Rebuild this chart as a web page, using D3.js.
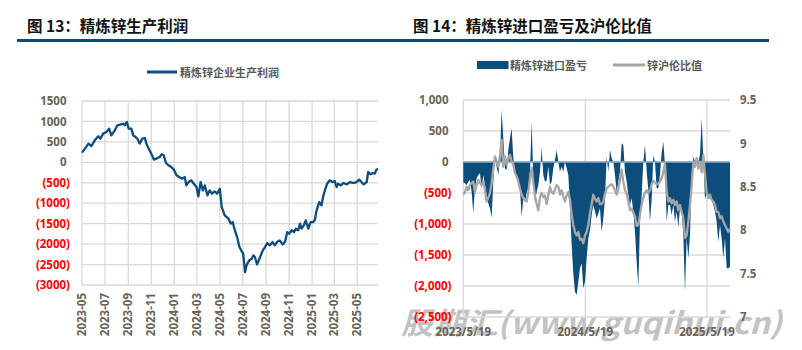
<!DOCTYPE html>
<html><head><meta charset="utf-8">
<script src="https://cdn.jsdelivr.net/npm/d3@7"></script>
<style>body{margin:0;background:#fff} svg{display:block}</style>
</head><body><svg id="c" width="802" height="350"></svg>
<script>
// ---------- DATA ----------
const titleLeft = "图 13：精炼锌生产利润";
const titleRight = "图 14：精炼锌进口盈亏及沪伦比值";
const legendLeft = "精炼锌企业生产利润";
const legendRightArea = "精炼锌进口盈亏";
const legendRightLine = "锌沪伦比值";
const watermark = "股期汇(www.guqihui.cn)";

const leftYTicks = [1500, 1000, 500, 0, -500, -1000, -1500, -2000, -2500, -3000];
const leftDomainDates = ["2023-05-01", "2025-06-25"];
const leftDates = ["2023-05-01","2023-05-09","2023-05-18","2023-05-26","2023-06-04","2023-06-13","2023-06-19","2023-06-26","2023-07-05","2023-07-12","2023-07-18","2023-07-27","2023-08-03","2023-08-12","2023-08-18","2023-08-23","2023-08-28","2023-09-02","2023-09-09","2023-09-14","2023-09-20","2023-09-25","2023-10-01","2023-10-08","2023-10-15","2023-10-19","2023-10-25","2023-11-01","2023-11-08","2023-11-14","2023-11-23","2023-11-29","2023-12-04","2023-12-10","2023-12-17","2023-12-24","2023-12-31","2024-01-07","2024-01-14","2024-01-22","2024-01-29","2024-02-02","2024-02-08","2024-02-15","2024-02-22","2024-02-29","2024-03-05","2024-03-11","2024-03-17","2024-03-22","2024-03-29","2024-04-04","2024-04-10","2024-04-17","2024-04-24","2024-05-01","2024-05-06","2024-05-14","2024-05-24","2024-05-30","2024-06-04","2024-06-10","2024-06-16","2024-06-22","2024-06-28","2024-07-02","2024-07-07","2024-07-11","2024-07-18","2024-07-25","2024-07-29","2024-08-02","2024-08-08","2024-08-16","2024-08-23","2024-08-29","2024-09-04","2024-09-11","2024-09-18","2024-09-24","2024-09-30","2024-10-07","2024-10-15","2024-10-21","2024-10-27","2024-11-01","2024-11-08","2024-11-14","2024-11-19","2024-11-25","2024-11-30","2024-12-04","2024-12-10","2024-12-15","2024-12-22","2024-12-28","2025-01-04","2025-01-08","2025-01-13","2025-01-20","2025-01-26","2025-01-30","2025-02-04","2025-02-10","2025-02-17","2025-02-24","2025-03-02","2025-03-07","2025-03-11","2025-03-18","2025-03-25","2025-04-03","2025-04-12","2025-04-20","2025-04-29","2025-05-06","2025-05-12","2025-05-18","2025-05-26","2025-05-30","2025-06-05","2025-06-12","2025-06-16","2025-06-21","2025-06-25"];
const leftProfit = [237,335,457,400,538,636,580,702,741,824,660,783,905,930,946,905,986,824,824,660,620,580,457,580,595,457,335,212,66,90,130,196,171,-16,-73,-115,-179,
-318,-359,-399,-359,-563,-482,-440,-522,-604,-832,-482,-685,-563,-807,-685,-766,-709,-766,-644,-1093,-1300,-1378,-1500,-1460,-1663,-1827,-2072,-2170,-2233,-2683,-2519,-2397,-2356,-2275,-2316,-2495,-2316,-2152,-2072,-1974,-2030,-1950,-2030,-1950,-1908,-2006,-1950,-1705,-1745,-1663,-1705,-1622,-1663,-1500,-1622,-1541,-1419,-1622,-1460,
-1460,-1419,-1174,-971,-1052,-849,-685,-522,-440,-482,-457,-604,-522,-563,-506,-538,-482,-506,-482,-423,-482,-538,-482,-237,-293,-262,-277,-179,-155];

const rightYTicks = [1000, 500, 0, -500, -1000, -1500, -2000, -2500];
const rightY2Ticks = [9.5, 9, 8.5, 8, 7.5, 7];
const rightXTicks = ["2023-05-19", "2024-05-19", "2025-05-19"];
const rightStartDate = "2023-05-19";   // observations every 5 days
const rightStepDays = 5;
const importProfit = [-330,-344,-371,-317,-290,-478,-828,-410,-263,-210,
-183,-425,-210,-371,-532,-667,-747,-898,-317,90,
-75,-210,100,839,382,-102,-129,194,382,543,
70,-150,-210,-263,-425,-882,-586,-650,-500,-425,
-156,650,-263,-640,-478,-371,-156,220,-210,-317,
-300,-75,-371,-317,-102,32,194,5,-156,-75,
-156,5,-102,-210,-693,-1339,-1800,-2091,-2145,-1930,
-1715,-1634,-2038,-1930,-1554,-1231,-1100,-855,-693,-800,
-909,-830,-747,-1124,-909,-600,86,-156,194,59,
5,-210,-478,-317,-156,301,274,-156,-317,-532,
-693,-586,-801,-1124,-1607,-2011,-962,-532,5,274,
-150,-450,-962,-600,113,0,-425,-425,-200,150,
328,-48,-962,-693,-693,-855,-693,-962,-801,-1043,
-747,-801,-1177,-2091,-1231,-1554,-1177,-210,86,5,
86,5,113,704,59,-600,-500,-550,-600,-600,
-693,-801,-962,-1285,-1016,-1231,-1554,-1231,-1715,-1715,
-1688];
const shLmeRatio = [8.41,8.44,8.50,8.46,8.52,8.54,8.56,8.44,8.52,8.58,
8.54,8.52,8.56,8.46,8.33,8.37,8.43,8.54,8.71,8.85,
8.79,8.73,8.85,9.04,8.73,8.85,8.75,8.83,8.87,8.79,
8.75,8.66,8.62,8.56,8.48,8.41,8.37,8.36,8.33,8.44,
8.60,8.72,8.55,8.40,8.30,8.23,8.38,8.43,8.38,8.40,
8.30,8.40,8.50,8.44,8.42,8.47,8.52,8.50,8.41,8.46,
8.39,8.33,8.40,8.44,8.35,8.18,8.06,7.98,7.94,7.98,
7.89,7.90,7.85,7.94,7.98,8.06,8.20,8.30,8.41,8.36,
8.33,8.37,8.30,8.30,8.33,8.42,8.48,8.50,8.52,8.53,
8.50,8.46,8.41,8.48,8.58,8.70,8.56,8.46,8.42,8.33,
8.23,8.25,8.20,8.16,8.05,8.06,8.18,8.30,8.38,8.43,
8.46,8.43,8.46,8.53,8.57,8.55,8.53,8.54,8.56,8.60,
8.67,8.77,8.44,8.33,8.37,8.31,8.35,8.29,8.33,8.23,
8.29,8.21,8.14,7.91,7.94,8.10,8.29,8.52,8.79,8.73,
8.83,8.71,8.79,8.67,8.87,8.64,8.44,8.37,8.41,8.35,
8.33,8.29,8.21,8.21,8.14,8.16,8.10,8.06,8.02,7.98,
8.02];

// ---------- DRAW ----------
const parse = d3.timeParse("%Y-%m-%d");
const svg = d3.select("#c");
const NUM = "'Open Sans','Noto Sans',sans-serif";
const CJK = "'Noto Sans CJK SC','Noto Sans',sans-serif";
const posCol = "#6a6158", negCol = "#ff0000", navy = "#0c4d7c", gridCol = "#d9d9d9", greyLine = "#a6a6a6";

// watermark (behind)
svg.append("text").attr("x", 401).attr("y", 334)
  .attr("font-family", CJK).attr("font-size", 30).attr("font-weight", 700).attr("font-style", "italic")
  .attr("fill", "#b4b4b4").attr("opacity", 0.8)
  .attr("textLength", 381).attr("lengthAdjust", "spacingAndGlyphs")
  .text(watermark);

// titles
[[27, titleLeft], [413, titleRight]].forEach(([x, t]) => {
  svg.append("text").attr("x", x).attr("y", 32).attr("font-family", CJK)
    .attr("font-size", 15.5).attr("font-weight", 700).attr("fill", "#111").text(t);
});
svg.append("rect").attr("x", 17).attr("y", 39).attr("width", 752).attr("height", 3).attr("fill", "#0d4a7a");

const numLabel = (g, v, x, y, anchor, txt) => {
  g.append("text").attr("x", x).attr("y", y).attr("dy", "0.36em")
    .attr("text-anchor", anchor).attr("font-family", NUM).attr("font-size", 11.5)
    .attr("font-weight", 700).attr("fill", v < 0 ? negCol : posCol).text(txt);
};

// ===== LEFT CHART =====
const gL = svg.append("g");
const xL = d3.scaleTime().domain(leftDomainDates.map(parse)).range([82, 378]);
const yL = d3.scaleLinear().domain([-3000, 1500]).range([285, 101]);
const xTicksL = xL.ticks(d3.timeMonth.every(2));

gL.selectAll(".hg").data(leftYTicks).join("line")
  .attr("x1", 82).attr("x2", 378).attr("y1", d => yL(d)).attr("y2", d => yL(d))
  .attr("stroke", gridCol).attr("stroke-width", 1.3);
gL.selectAll(".vg").data(xTicksL).join("line")
  .attr("x1", d => xL(d)).attr("x2", d => xL(d)).attr("y1", yL(1500)).attr("y2", yL(-3000))
  .attr("stroke", gridCol).attr("stroke-width", 1.3);

leftYTicks.forEach(v => {
  numLabel(gL, v, v < 0 ? 70 : 66.5, yL(v), "end", v < 0 ? "(" + (-v) + ")" : String(v));
});
const fmtL = d3.timeFormat("%Y-%m");
xTicksL.forEach(t => {
  gL.append("text").attr("transform", `translate(${xL(t)},293) rotate(-90)`)
    .attr("dy", "0.36em").attr("text-anchor", "end")
    .attr("font-family", NUM).attr("font-size", 11.5).attr("font-weight", 700)
    .attr("fill", posCol).text(fmtL(t));
});

const leftData = leftDates.map((d, i) => ({ d: parse(d), v: leftProfit[i] }));
gL.append("path").datum(leftData)
  .attr("d", d3.line().x(p => xL(p.d)).y(p => yL(p.v)))
  .attr("fill", "none").attr("stroke", navy).attr("stroke-width", 2.3).attr("stroke-linejoin", "round");

// legend left
gL.append("line").attr("x1", 147).attr("x2", 177).attr("y1", 72).attr("y2", 72)
  .attr("stroke", navy).attr("stroke-width", 3);
gL.append("text").attr("x", 180).attr("y", 76.5).attr("font-family", CJK).attr("font-size", 11)
  .attr("font-weight", 700).attr("fill", "#595959").text(legendLeft);

// ===== RIGHT CHART =====
const gR = svg.append("g");
const start = parse(rightStartDate);
const rightDates = importProfit.map((_, i) => d3.timeDay.offset(start, i * rightStepDays));
const xR = d3.scaleTime().domain([rightDates[0], rightDates[rightDates.length - 1]]).range([463.3, 730]);
const yR = d3.scaleLinear().domain([-2500, 1000]).range([317, 100]);
const yR2 = d3.scaleLinear().domain([7, 9.5]).range([317, 100]);
const xTicksR = rightXTicks.map(parse);

gR.selectAll(".hg").data(rightYTicks).join("line")
  .attr("x1", 463.3).attr("x2", 730).attr("y1", d => yR(d)).attr("y2", d => yR(d))
  .attr("stroke", gridCol).attr("stroke-width", 1.3);
gR.selectAll(".vg").data(xTicksR).join("line")
  .attr("x1", d => xR(d)).attr("x2", d => xR(d)).attr("y1", yR(1000)).attr("y2", yR(-2500))
  .attr("stroke", gridCol).attr("stroke-width", 1.3);

const rData = rightDates.map((d, i) => ({ d, v: importProfit[i], r: shLmeRatio[i] }));
gR.append("path").datum(rData)
  .attr("d", d3.area().x(p => xR(p.d)).y0(yR(0)).y1(p => yR(p.v)))
  .attr("fill", navy);
gR.append("line").attr("x1", 463.3).attr("x2", 730).attr("y1", yR(0)).attr("y2", yR(0))
  .attr("stroke", "#8aa7c2").attr("stroke-width", 1.6);
gR.append("path").datum(rData)
  .attr("d", d3.line().x(p => xR(p.d)).y(p => yR2(p.r)))
  .attr("fill", "none").attr("stroke", greyLine).attr("stroke-width", 2.3).attr("stroke-linejoin", "round");

const fmtC = d3.format(",");
rightYTicks.forEach(v => {
  numLabel(gR, v, v < 0 ? 451.5 : 448.5, yR(v), "end", v < 0 ? "(" + fmtC(-v) + ")" : fmtC(v));
});
rightY2Ticks.forEach(v => {
  numLabel(gR, 1, 740, yR2(v), "start", String(v));
});
const fmtR = d3.timeFormat("%Y/%-m/%-d");
xTicksR.forEach(t => {
  gR.append("text").attr("x", xR(t)).attr("y", 336).attr("text-anchor", "middle")
    .attr("font-family", NUM).attr("font-size", 11.5).attr("font-weight", 700)
    .attr("fill", posCol).text(fmtR(t));
});

// legend right
gR.append("rect").attr("x", 477).attr("y", 61).attr("width", 31.5).attr("height", 8).attr("fill", navy);
gR.append("text").attr("x", 510).attr("y", 69.5).attr("font-family", CJK).attr("font-size", 11)
  .attr("font-weight", 700).attr("fill", "#595959").text(legendRightArea);
gR.append("line").attr("x1", 613).attr("x2", 645).attr("y1", 65).attr("y2", 65)
  .attr("stroke", greyLine).attr("stroke-width", 3);
gR.append("text").attr("x", 647).attr("y", 69.5).attr("font-family", CJK).attr("font-size", 11)
  .attr("font-weight", 700).attr("fill", "#595959").text(legendRightLine);
</script></body></html>
